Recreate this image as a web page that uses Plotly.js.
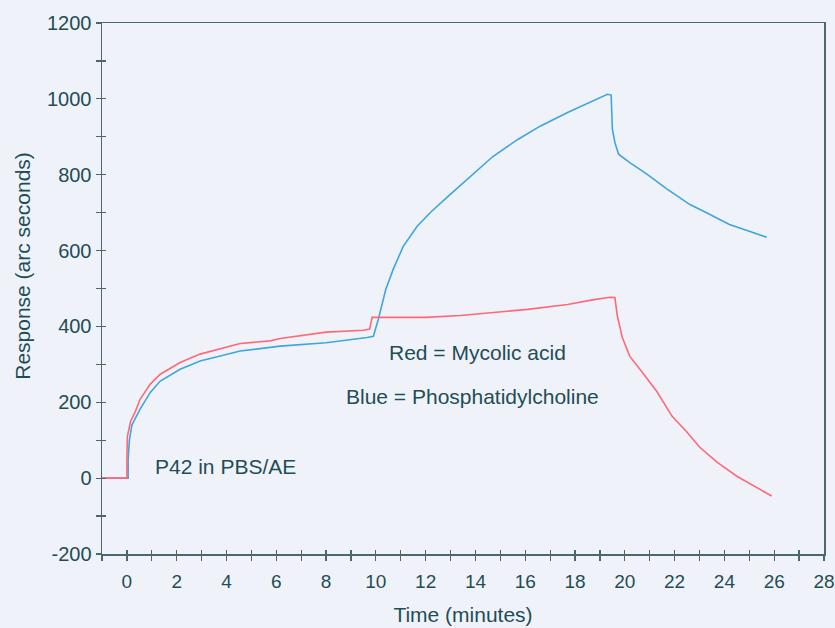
<!DOCTYPE html>
<html>
<head>
<meta charset="utf-8">
<script src="https://cdn.plot.ly/plotly-3.0.1.min.js"></script>
<style>html,body{margin:0;padding:0;background:#f0f3f9;}#chart{width:835px;height:628px;}</style>
</head>
<body>
<div id="chart"></div>
<script>
// Red = Mycolic acid
var redTime = [-1, 0, 0, 0.02, 0.15, 0.33, 0.53, 0.94, 1.34, 2.14, 2.94, 3.75, 4.55, 5.76, 6.16, 8, 9.5, 9.75, 9.85, 12, 13.4, 16.1, 17.7, 18.7, 19.4, 19.6, 19.7, 19.9, 20.2, 20.7, 21.3, 21.9, 22.5, 23.0, 23.7, 24.5, 25.2, 25.9];
var redResp = [0, 0, 50, 110, 150, 174, 208, 248, 274, 305, 327, 342, 355, 362, 368, 385, 390, 393, 424, 424, 429, 445, 458, 470, 477, 476, 427, 371, 321, 279, 227, 163, 121, 82, 42, 5, -21, -47];
// Blue = Phosphatidylcholine
var blueTime = [-1, 0.05, 0.05, 0.1, 0.2, 0.53, 0.94, 1.34, 2.14, 2.94, 3.75, 4.55, 6.16, 8, 9.65, 9.9, 10.1, 10.4, 10.7, 11.1, 11.66, 12.2, 12.9, 13.8, 14.7, 15.7, 16.6, 17.7, 18.6, 19.3, 19.45, 19.5, 19.6, 19.75, 20.2, 20.9, 21.7, 22.6, 23.4, 24.2, 25.0, 25.7];
var blueResp = [0, 0, 50, 100, 140, 182, 226, 256, 287, 309, 322, 335, 348, 357, 371, 374, 419, 498, 551, 611, 664, 701, 743, 796, 848, 893, 928, 964, 991, 1012, 1010, 920, 885, 854, 832, 801, 762, 722, 696, 669, 651, 635];

var xTickVals = [0, 2, 4, 6, 8, 10, 12, 14, 16, 18, 20, 22, 24, 26, 28];
var xTickText = ["0", "2", "4", "6", "8", "10", "12", "14", "16", "18", "20", "22", "24", "26", "28"];
var yTickVals = [-200, 0, 200, 400, 600, 800, 1000, 1200];
var yTickText = ["-200", "0", "200", "400", "600", "800", "1000", "1200"];
var annoTexts = ["Red = Mycolic acid", "Blue = Phosphatidylcholine", "P42 in PBS/AE"];
var xTitle = "Time (minutes)";
var yTitle = "Response (arc seconds)";

var axisCol = "#4d6868";
var textCol = "#1f4d55";
var font = "Liberation Sans, Arial, sans-serif";

var traces = [
  {x: blueTime, y: blueResp, mode: "lines", line: {color: "#3fa5de", width: 1.6}, hoverinfo: "skip"},
  {x: redTime, y: redResp, mode: "lines", line: {color: "#ff6878", width: 1.6}, hoverinfo: "skip"},
  {x: [null], y: [null], xaxis: "x2", yaxis: "y2", showlegend: false}
];

var layout = {
  width: 835, height: 628,
  margin: {l: 102, r: 11, t: 23, b: 74},
  paper_bgcolor: "#eff3f9", plot_bgcolor: "#eff3f9",
  showlegend: false,
  font: {family: font, color: textCol, size: 18},
  xaxis: {
    range: [-1, 28], showgrid: false, zeroline: false,
    showline: true, linecolor: axisCol, linewidth: 1.5, mirror: true,
    tickmode: "array", tickvals: xTickVals, ticktext: xTickText, ticks: "outside", ticklen: 5, tickcolor: axisCol, tickwidth: 1.2,
    ticklabelstandoff: 5,
    minor: {dtick: 1, tick0: 0, ticks: "outside", ticklen: 5, tickcolor: axisCol, tickwidth: 1.2},
    tickfont: {size: 19, color: textCol, family: font},
    title: {text: xTitle, font: {size: 21, color: textCol, family: font}, standoff: 16}
  },
  yaxis: {
    range: [-200, 1200], showgrid: false, zeroline: false,
    showline: true, linecolor: axisCol, linewidth: 1.5, mirror: true,
    tickmode: "array", tickvals: yTickVals, ticktext: yTickText, ticks: "outside", ticklen: 5, tickcolor: axisCol, tickwidth: 1.2,
    minor: {dtick: 100, tick0: 0, ticks: "outside", ticklen: 5, tickcolor: axisCol, tickwidth: 1.2},
    tickfont: {size: 20, color: textCol, family: font}
  },
  xaxis2: {
    overlaying: "x", range: [-1, 28], showgrid: false, zeroline: false, showline: false,
    dtick: 1, tick0: 0, ticks: "inside", ticklen: 4, tickcolor: axisCol, tickwidth: 1.2, showticklabels: false
  },
  yaxis2: {
    overlaying: "y", range: [-200, 1200], showgrid: false, zeroline: false, showline: false,
    dtick: 100, tick0: 0, ticks: "inside", ticklen: 4, tickcolor: axisCol, tickwidth: 1.2, showticklabels: false
  },
  annotations: [
    {x: 14.1, y: 332, xref: "x", yref: "y", text: annoTexts[0], showarrow: false, font: {size: 21, color: textCol, family: font}},
    {x: 13.9, y: 216, xref: "x", yref: "y", text: annoTexts[1], showarrow: false, font: {size: 21, color: textCol, family: font}},
    {x: 3.95, y: 32, xref: "x", yref: "y", text: annoTexts[2], showarrow: false, font: {size: 21, color: textCol, family: font}},
    {x: -0.11, y: 0.542, xref: "paper", yref: "paper", text: yTitle, textangle: -90, showarrow: false, xanchor: "center", yanchor: "middle", font: {size: 21, color: textCol, family: font}}
  ]
};

Plotly.newPlot("chart", traces, layout, {staticPlot: true, displayModeBar: false});
</script>
</body>
</html>
